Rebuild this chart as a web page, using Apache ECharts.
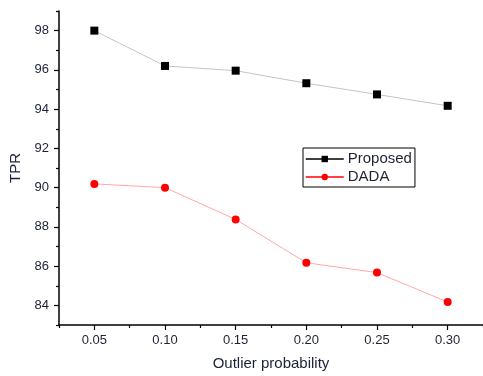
<!DOCTYPE html>
<html>
<head>
<meta charset="utf-8">
<script src="https://cdn.jsdelivr.net/npm/echarts@6/dist/echarts.min.js"></script>
<style>
html, body { margin: 0; padding: 0; background: #fff; }
#chart { width: 483px; height: 376px; }
</style>
</head>
<body>
<div id="chart"></div>
<script>
// values
var probs = [0.05, 0.10, 0.15, 0.20, 0.25, 0.30];
var proposed = [98.0, 96.2, 95.96, 95.32, 94.75, 94.17];
var dada = [90.19, 90.0, 88.38, 86.17, 85.67, 84.17];

var yMajor = [84, 86, 88, 90, 92, 94, 96, 98];
var yMinor = [83, 85, 87, 89, 91, 93, 95, 97, 99];
var xMajor = [0.05, 0.10, 0.15, 0.20, 0.25, 0.30];
var xMinor = [0.025, 0.075, 0.125, 0.175, 0.225, 0.275, 0.325];

function pairs(xs, ys) {
  var out = [];
  for (var i = 0; i < xs.length; i++) out.push([xs[i], ys[i]]);
  return out;
}

var font = 'Liberation Sans, Arial, sans-serif';
var txt = '#1e2236';

var chart = echarts.init(document.getElementById('chart'));
var option = {
  animation: false,
  grid: { left: 58, top: 11, right: -4, bottom: 48 },
  legend: {
    orient: 'vertical',
    left: 303,
    top: 148,
    padding: [3, 3, 2, 2],
    itemGap: 2,
    itemWidth: 38,
    itemHeight: 8,
    borderColor: '#000',
    borderWidth: 1,
    textStyle: { fontFamily: font, fontSize: 15, lineHeight: 16, color: txt, padding: [0, 0, 0, -1] },
    data: [
      { name: 'Proposed', lineStyle: { color: '#000', width: 1.5 } },
      { name: 'DADA', lineStyle: { color: '#ff0000', width: 1.5 } }
    ]
  },
  xAxis: [
    {
      type: 'value', min: 0.025, max: 0.325,
      name: 'Outlier probability', nameLocation: 'middle', nameGap: 31,
      nameTextStyle: { fontFamily: font, fontSize: 15, color: txt },
      axisLine: { lineStyle: { color: '#000', width: 1.5 } },
      axisTick: { customValues: xMajor, length: 5, lineStyle: { color: '#000', width: 1.2 } },
      axisLabel: {
        customValues: xMajor, margin: 9, fontFamily: font, fontSize: 13, color: txt,
        formatter: function (v) { return v.toFixed(2); }
      },
      splitLine: { show: false }
    },
    {
      type: 'value', min: 0.025, max: 0.325, position: 'bottom',
      axisLine: { show: false },
      axisTick: { customValues: xMinor, length: 3, lineStyle: { color: '#000', width: 1.2 } },
      axisLabel: { show: false },
      splitLine: { show: false }
    }
  ],
  yAxis: [
    {
      type: 'value', min: 83, max: 99,
      name: 'TPR', nameLocation: 'middle', nameGap: 36, nameRotate: 90,
      nameTextStyle: { fontFamily: font, fontSize: 15, color: txt },
      axisLine: { show: true, lineStyle: { color: '#000', width: 1.5 } },
      axisTick: { show: true, customValues: yMajor, length: 5, lineStyle: { color: '#000', width: 1.2 } },
      axisLabel: { customValues: yMajor, margin: 10, fontFamily: font, fontSize: 13, color: txt },
      splitLine: { show: false }
    },
    {
      type: 'value', min: 83, max: 99, position: 'left',
      axisLine: { show: false },
      axisTick: { show: true, customValues: yMinor, length: 3, lineStyle: { color: '#000', width: 1.2 } },
      axisLabel: { show: false },
      splitLine: { show: false }
    }
  ],
  series: [
    {
      name: 'Proposed', type: 'line', xAxisIndex: 0, yAxisIndex: 0,
      data: pairs(probs, proposed),
      symbol: 'rect', symbolSize: 8,
      itemStyle: { color: '#000' },
      lineStyle: { color: '#c4c4c4', width: 1 }
    },
    {
      name: 'DADA', type: 'line', xAxisIndex: 0, yAxisIndex: 0,
      data: pairs(probs, dada),
      symbol: 'circle', symbolSize: 8,
      itemStyle: { color: '#ff0000' },
      lineStyle: { color: '#ffa8a8', width: 1 }
    }
  ]
};
chart.setOption(option);
</script>
</body>
</html>
